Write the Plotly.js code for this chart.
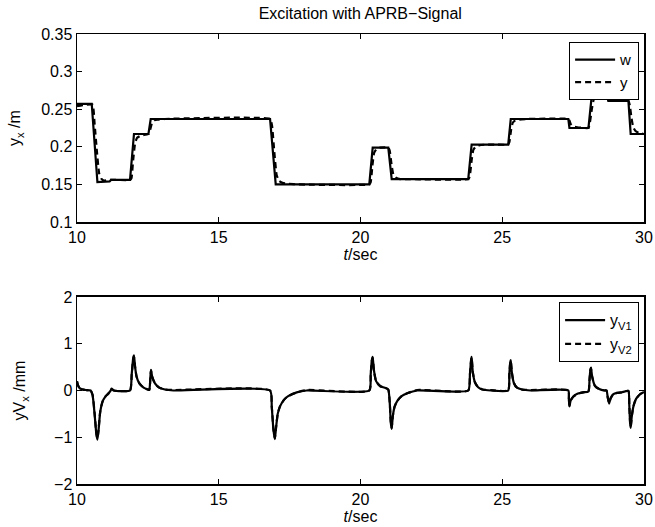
<!DOCTYPE html>
<html>
<head>
<meta charset="utf-8">
<script src="https://cdn.plot.ly/plotly-3.0.1.min.js"></script>
<style>html,body{margin:0;padding:0;background:#fff;}#chart{width:655px;height:527px;}</style>
</head>
<body>
<div id="chart"></div>
<script>
// ---- Top panel: reference w (solid) and output y (dashed) ----
const wT = [10, 10.52, 10.72, 11.15, 11.2, 11.87, 12.01, 12.52, 12.6, 16.81, 17.01, 20.31, 20.43, 20.98, 21.1, 23.8, 23.92, 25.21, 25.3, 27.33, 27.37, 28.04, 28.16, 28.68, 28.74, 29.45, 29.53, 30];
const wV = [0.257, 0.257, 0.153, 0.154, 0.156, 0.156, 0.217, 0.217, 0.237, 0.237, 0.150, 0.150, 0.199, 0.199, 0.157, 0.157, 0.203, 0.203, 0.237, 0.237, 0.225, 0.225, 0.269, 0.269, 0.261, 0.261, 0.217, 0.217];

const yT = [10, 10.3, 10.55, 10.62, 10.7, 10.78, 10.85, 10.95, 11.1, 11.3, 11.87, 11.92, 11.98, 12.05, 12.12, 12.25, 12.4, 12.52, 12.57, 12.64, 12.72, 12.85, 13.1, 16.81, 16.88, 16.96, 17.04, 17.12, 17.25, 17.45, 17.8, 20.31, 20.36, 20.42, 20.48, 20.56, 20.7, 20.98, 21.03, 21.1, 21.16, 21.25, 21.4, 21.7, 23.8, 23.85, 23.92, 23.98, 24.06, 24.2, 24.45, 24.8, 25.21, 25.25, 25.31, 25.37, 25.46, 25.6, 25.9, 27.33, 27.37, 27.42, 27.5, 27.65, 27.9, 28.04, 28.09, 28.16, 28.22, 28.3, 28.45, 28.68, 28.72, 28.78, 28.86, 29.0, 29.2, 29.45, 29.5, 29.56, 29.62, 29.7, 29.85, 30];
const yV = [0.254, 0.256, 0.256, 0.231, 0.195, 0.165, 0.158, 0.155, 0.156, 0.156, 0.156, 0.158, 0.182, 0.205, 0.212, 0.215, 0.216, 0.217, 0.221, 0.231, 0.235, 0.236, 0.237, 0.237, 0.228, 0.193, 0.163, 0.155, 0.152, 0.151, 0.150, 0.150, 0.153, 0.175, 0.192, 0.197, 0.199, 0.199, 0.195, 0.175, 0.163, 0.159, 0.157, 0.157, 0.157, 0.160, 0.182, 0.196, 0.200, 0.202, 0.203, 0.203, 0.203, 0.206, 0.222, 0.232, 0.235, 0.236, 0.237, 0.237, 0.235, 0.230, 0.227, 0.226, 0.225, 0.225, 0.232, 0.250, 0.262, 0.267, 0.269, 0.269, 0.268, 0.264, 0.262, 0.261, 0.261, 0.261, 0.255, 0.238, 0.226, 0.221, 0.218, 0.217];

// ---- Bottom panel: yV1 (solid) and yV2 (dashed) ----
const vT = [10, 10.03, 10.08, 10.15, 10.3, 10.48, 10.55, 10.62, 10.68, 10.72, 10.76, 10.82, 10.9, 11.0, 11.1, 11.18, 11.22, 11.3, 11.87, 11.93, 11.98, 12.01, 12.05, 12.1, 12.2, 12.35, 12.5, 12.55, 12.59, 12.61, 12.65, 12.75, 12.9, 13.1, 13.4, 16.81, 16.87, 16.93, 16.98, 17.02, 17.08, 17.16, 17.3, 17.45, 17.75, 18.1, 20.31, 20.36, 20.4, 20.43, 20.47, 20.55, 20.7, 20.85, 20.98, 21.03, 21.07, 21.1, 21.14, 21.2, 21.3, 21.45, 21.65, 22.0, 23.8, 23.86, 23.9, 23.92, 23.96, 24.04, 24.15, 24.3, 24.6, 25.21, 25.25, 25.28, 25.3, 25.34, 25.41, 25.52, 25.7, 26.0, 27.33, 27.35, 27.37, 27.41, 27.51, 27.65, 27.85, 28.04, 28.08, 28.11, 28.13, 28.17, 28.27, 28.42, 28.6, 28.68, 28.72, 28.77, 28.82, 28.92, 29.05, 29.21, 29.45, 29.48, 29.51, 29.53, 29.57, 29.63, 29.72, 29.86, 30];
const v1 = [0.20, 0.12, 0.06, 0.03, 0.01, 0.0, -0.10, -0.5, -0.92, -1.05, -0.85, -0.45, -0.24, -0.13, -0.07, -0.01, 0.04, 0.0, 0.0, 0.35, 0.68, 0.75, 0.5, 0.3, 0.15, 0.06, 0.02, 0.01, 0.3, 0.44, 0.3, 0.15, 0.06, 0.02, 0.0, 0.0, -0.35, -0.85, -1.04, -0.8, -0.5, -0.34, -0.2, -0.12, -0.04, 0.0, 0.0, 0.35, 0.65, 0.72, 0.45, 0.2, 0.09, 0.06, 0.02, -0.25, -0.7, -0.82, -0.55, -0.35, -0.22, -0.12, -0.06, 0.0, 0.0, 0.35, 0.65, 0.72, 0.4, 0.17, 0.07, 0.02, 0.0, 0.0, 0.35, 0.6, 0.65, 0.38, 0.16, 0.06, 0.02, 0.0, 0.0, -0.2, -0.34, -0.22, -0.13, -0.07, -0.04, -0.02, 0.25, 0.45, 0.49, 0.3, 0.1, 0.03, 0.0, 0.0, -0.15, -0.28, -0.17, -0.08, -0.05, -0.04, -0.01, -0.3, -0.7, -0.8, -0.55, -0.33, -0.18, -0.08, -0.03];
const v2 = [0.19, 0.12, 0.06, 0.03, 0.01, 0.0, -0.09, -0.48, -0.9, -1.03, -0.84, -0.45, -0.24, -0.13, -0.07, -0.01, 0.03, 0.0, 0.0, 0.34, 0.66, 0.73, 0.5, 0.3, 0.15, 0.06, 0.02, 0.01, 0.29, 0.43, 0.3, 0.15, 0.06, 0.02, 0.01, 0.0, -0.34, -0.83, -1.02, -0.8, -0.5, -0.34, -0.2, -0.12, -0.04, 0.01, 0.0, 0.34, 0.63, 0.70, 0.45, 0.2, 0.09, 0.06, 0.02, -0.24, -0.68, -0.80, -0.55, -0.35, -0.22, -0.12, -0.06, 0.01, 0.0, 0.34, 0.63, 0.70, 0.4, 0.17, 0.07, 0.02, 0.01, 0.0, 0.34, 0.58, 0.63, 0.38, 0.16, 0.06, 0.02, 0.01, 0.0, -0.19, -0.33, -0.22, -0.13, -0.07, -0.04, -0.02, 0.24, 0.44, 0.48, 0.3, 0.1, 0.03, 0.0, 0.0, -0.14, -0.27, -0.17, -0.08, -0.05, -0.04, -0.01, -0.29, -0.68, -0.78, -0.55, -0.33, -0.18, -0.08, -0.03];

const xTicks = [10, 15, 20, 25, 30];
const yTopTicks = [0.1, 0.15, 0.2, 0.25, 0.3, 0.35];
const yTopLabels = ['0.1', '0.15', '0.2', '0.25', '0.3', '0.35'];
const yBotTicks = [-2, -1, 0, 1, 2];
const yBotLabels = ['\u22122', '\u22121', '0', '1', '2'];

const FONT = 'Liberation Sans, Arial, sans-serif';
const FS = 16;

const traces = [
  {x: wT, y: wV, name: 'w', mode: 'lines', xaxis: 'x', yaxis: 'y', line: {color: '#000', width: 2.2}, legend: 'legend'},
  {x: yT, y: yV, name: 'y', mode: 'lines', xaxis: 'x', yaxis: 'y', line: {color: '#000', width: 2.2, dash: '6px,4px', shape: 'spline', smoothing: 0.4}, legend: 'legend'},
  {x: vT, y: v1, name: 'y<sub>V1</sub>', mode: 'lines', xaxis: 'x2', yaxis: 'y2', line: {color: '#000', width: 2.2, shape: 'spline', smoothing: 0.5}, legend: 'legend2'},
  {x: vT, y: v2, name: 'y<sub>V2</sub>', mode: 'lines', xaxis: 'x2', yaxis: 'y2', line: {color: '#000', width: 2.2, dash: '6px,4px', shape: 'spline', smoothing: 0.5}, legend: 'legend2'}
];

function xax(anchor) {
  return {
    domain: [0, 1], range: [10, 30], anchor: anchor,
    tickvals: xTicks, ticktext: xTicks.map(String),
    ticks: 'inside', ticklen: 5, tickwidth: 1, tickcolor: '#000',
    showline: true, linecolor: '#000', linewidth: 1.5, mirror: 'ticks',
    showgrid: false, zeroline: false,
    tickfont: {family: FONT, size: FS, color: '#000'},
    title: {text: '<i>t</i>/sec', font: {family: FONT, size: FS, color: '#000'}, standoff: 2}
  };
}

const layout = {
  width: 655, height: 527,
  margin: {l: 77, r: 11, t: 34, b: 43},
  paper_bgcolor: '#fff', plot_bgcolor: '#fff',
  font: {family: FONT, size: FS, color: '#000'},
  title: {text: 'Excitation with APRB\u2212Signal', font: {family: FONT, size: FS, color: '#000'}, x: 0.55, xref: 'container', xanchor: 'center', y: 0.975, yref: 'container', yanchor: 'middle'},
  showlegend: true,
  xaxis: xax('y'),
  xaxis2: xax('y2'),
  yaxis: {
    domain: [0.5822, 1], range: [0.1, 0.35], anchor: 'x',
    tickvals: yTopTicks, ticktext: yTopLabels,
    ticks: 'inside', ticklen: 5, tickwidth: 1, tickcolor: '#000',
    showline: true, linecolor: '#000', linewidth: 1.5, mirror: 'ticks',
    showgrid: false, zeroline: false,
    tickfont: {family: FONT, size: FS, color: '#000'},
    title: {text: 'y<sub>x</sub> /m', font: {family: FONT, size: FS, color: '#000'}, standoff: 16}
  },
  yaxis2: {
    domain: [0, 0.4156], range: [-2, 2], anchor: 'x2',
    tickvals: yBotTicks, ticktext: yBotLabels,
    ticks: 'inside', ticklen: 5, tickwidth: 1, tickcolor: '#000',
    showline: true, linecolor: '#000', linewidth: 1.5, mirror: 'ticks',
    showgrid: false, zeroline: false,
    tickfont: {family: FONT, size: FS, color: '#000'},
    title: {text: 'yV<sub>x</sub> /mm', font: {family: FONT, size: FS, color: '#000'}, standoff: 24}
  },
  legend: {
    x: 0.991, xanchor: 'right', y: 0.982, yanchor: 'top', xref: 'paper', yref: 'paper',
    bgcolor: '#fff', bordercolor: '#000', borderwidth: 1.2,
    font: {family: FONT, size: 15, color: '#000'}, tracegroupgap: 0, itemwidth: 40
  },
  legend2: {
    x: 0.991, xanchor: 'right', y: 0.4044, yanchor: 'top', xref: 'paper', yref: 'paper',
    bgcolor: '#fff', bordercolor: '#000', borderwidth: 1.2,
    font: {family: FONT, size: 16, color: '#000'}, tracegroupgap: 0, itemwidth: 40
  }
};

Plotly.newPlot('chart', traces, layout, {displayModeBar: false, staticPlot: true});
</script>
</body>
</html>
